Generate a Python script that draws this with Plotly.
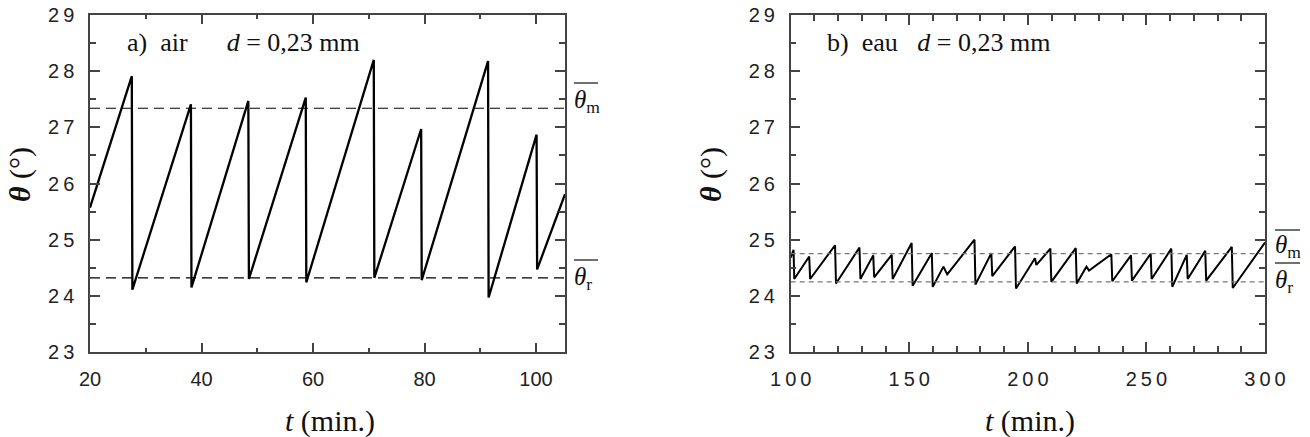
import plotly.graph_objects as go

W, H = 1310, 437

# ---- data ----
t_air = [20.0, 27.5, 27.6, 38.1, 38.2, 48.4, 48.5, 58.7, 58.8, 70.9, 71.0, 79.4, 79.5,
         91.4, 91.5, 100.1, 100.2, 105.2]
theta_air = [25.57, 27.91, 24.11, 27.41, 24.15, 27.47, 24.30, 27.53, 24.24, 28.20, 24.32,
             26.97, 24.28, 28.18, 23.97, 26.87, 24.47, 25.81]
theta_m_air = 27.34
theta_r_air = 24.32

t_eau = [100.0, 101.2, 101.5, 107.8, 108.2, 118.7, 119.1, 129.0, 129.4, 134.8, 135.2,
         142.6, 143.0, 151.0, 151.4, 159.5, 159.9, 164.4, 166.0, 177.5, 177.9, 184.6,
         185.0, 194.6, 195.0, 203.0, 203.6, 209.5, 209.9, 220.2, 220.6, 224.7, 225.8,
         235.2, 235.6, 243.5, 243.9, 251.8, 252.2, 260.5, 260.9, 267.0, 267.4, 274.8,
         275.2, 286.0, 286.4, 300.0]
theta_eau = [24.68, 24.82, 24.30, 24.70, 24.30, 24.90, 24.22, 24.86, 24.30, 24.72, 24.33,
             24.73, 24.30, 24.94, 24.18, 24.76, 24.16, 24.52, 24.38, 25.00, 24.20, 24.76,
             24.35, 24.88, 24.13, 24.67, 24.55, 24.84, 24.25, 24.85, 24.22, 24.52, 24.45,
             24.74, 24.26, 24.72, 24.27, 24.75, 24.30, 24.84, 24.16, 24.73, 24.30, 24.80,
             24.27, 24.87, 24.14, 24.95]
theta_m_eau = 24.75
theta_r_eau = 24.25

x_range_air = [20, 105.2]
x_range_eau = [100, 300]
y_range = [23, 29]

y_ticks = [23, 24, 25, 26, 27, 28, 29]
x_ticks_air = [20, 40, 60, 80, 100]
x_ticks_eau = [100, 150, 200, 250, 300]

TS = "\u2009"
y_ticktext = [TS.join(str(v)) for v in y_ticks]
x_ticktext_air = [str(v) for v in x_ticks_air]
x_ticktext_eau = [TS.join(str(v)) for v in x_ticks_eau]


def px(x):
    return x / W


def py(y):
    return 1 - y / H


fig = go.Figure()

fig.add_trace(go.Scatter(x=t_air, y=theta_air, mode="lines",
                         line=dict(color="black", width=2.3), xaxis="x", yaxis="y",
                         showlegend=False))
for v in (theta_m_air, theta_r_air):
    fig.add_trace(go.Scatter(x=x_range_air, y=[v, v], mode="lines",
                             line=dict(color="black", width=1.2, dash="10px,6px"),
                             xaxis="x", yaxis="y", showlegend=False))

fig.add_trace(go.Scatter(x=t_eau, y=theta_eau, mode="lines",
                         line=dict(color="black", width=2), xaxis="x2", yaxis="y2",
                         showlegend=False))
for v in (theta_m_eau, theta_r_eau):
    fig.add_trace(go.Scatter(x=x_range_eau, y=[v, v], mode="lines",
                             line=dict(color="#777777", width=1.2, dash="5px,4px"),
                             xaxis="x2", yaxis="y2", showlegend=False))

tick_font = dict(family="Liberation Sans, Arial, sans-serif", size=20, color="#222")
axcol = "#444"

common = dict(showline=True, linecolor=axcol, linewidth=1.5, mirror="allticks",
              ticks="inside", tickcolor=axcol, tickwidth=1.5, showgrid=False,
              zeroline=False, tickfont=tick_font, tickmode="array", automargin=False)

ydom = [py(352), py(15)]

fig.update_layout(
    width=W, height=H,
    margin=dict(l=0, r=0, t=0, b=0),
    paper_bgcolor="white", plot_bgcolor="white",
    xaxis=dict(domain=[px(90), px(565)], range=x_range_air, anchor="y",
               tickvals=x_ticks_air, ticktext=x_ticktext_air, ticklen=9,
               ticklabelstandoff=8,
               minor=dict(tickmode="linear", tick0=20, dtick=10, ticklen=4,
                          ticks="inside", tickcolor=axcol, tickwidth=1.5),
               **common),
    yaxis=dict(domain=ydom, range=y_range, anchor="x",
               tickvals=y_ticks, ticktext=y_ticktext, ticklen=10,
               ticklabelstandoff=10,
               minor=dict(tickmode="linear", tick0=23, dtick=0.5, ticklen=6,
                          ticks="inside", tickcolor=axcol, tickwidth=1.5),
               **common),
    xaxis2=dict(domain=[px(790.7), px(1265)], range=x_range_eau, anchor="y2",
                tickvals=x_ticks_eau, ticktext=x_ticktext_eau, ticklen=10,
                ticklabelstandoff=8,
                minor=dict(tickmode="linear", tick0=100, dtick=10, ticklen=6,
                           ticks="inside", tickcolor=axcol, tickwidth=1.5),
                **common),
    yaxis2=dict(domain=ydom, range=y_range, anchor="x2",
                tickvals=y_ticks, ticktext=y_ticktext, ticklen=10,
                ticklabelstandoff=10,
                minor=dict(tickmode="linear", tick0=23, dtick=0.5, ticklen=6,
                           ticks="inside", tickcolor=axcol, tickwidth=1.5),
                **common),
)

serif = "Liberation Serif, Times New Roman, serif"
NB = "\u00a0"


def ann(text, x, y, size, xanchor="left", textangle=0, family=serif):
    fig.add_annotation(text=text, x=px(x), y=py(y), xref="paper", yref="paper",
                       xanchor=xanchor, yanchor="middle", showarrow=False,
                       textangle=textangle,
                       font=dict(family=family, size=size, color="#111"))


ann("a)" + NB * 2 + "air" + NB * 6 + "<i>d</i>" + NB + "=" + NB + "0,23" + NB + "mm", 125, 42, 26)
ann("b)" + NB * 2 + "eau" + NB * 3 + "<i>d</i>" + NB + "=" + NB + "0,23" + NB + "mm", 825, 42, 26)

ann("<i>t</i> (min.)", 330, 421, 30, xanchor="center")
ann("<i>t</i> (min.)", 1030, 421, 30, xanchor="center")

ann("<b><i>θ</i></b> (°)", 20, 175, 30, xanchor="center", textangle=-90)
ann("<b><i>θ</i></b> (°)", 711, 175, 30, xanchor="center", textangle=-90)

ann("<i>θ</i><sub>m</sub>", 572, 101, 25)
ann("<i>θ</i><sub>r</sub>", 572, 278, 25)
ann("<i>θ</i><sub>m</sub>", 1273, 247, 25)
ann("<i>θ</i><sub>r</sub>", 1273, 281, 25)

for (x0, x1, yb) in [(574, 598, 83), (574, 598, 260), (1275, 1300, 230), (1275, 1300, 263)]:
    fig.add_shape(type="line", xref="paper", yref="paper",
                  x0=px(x0), x1=px(x1), y0=py(yb), y1=py(yb),
                  line=dict(color="#222", width=1.3))

fig.write_html("out.html")
